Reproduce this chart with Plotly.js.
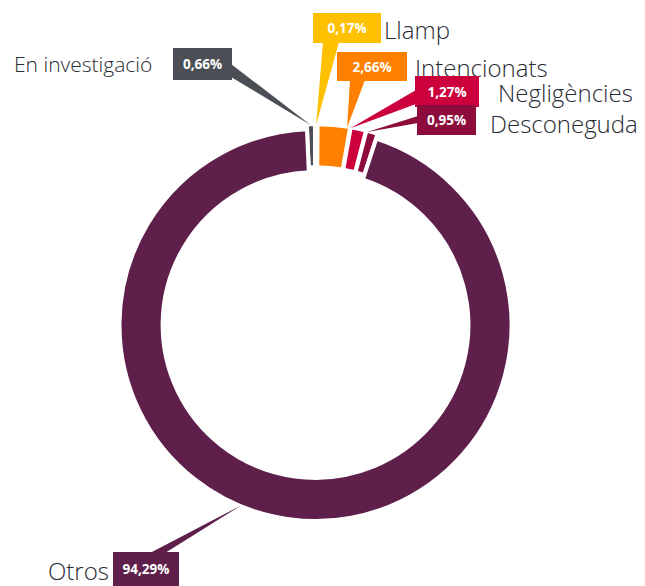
<!DOCTYPE html>
<html>
<head>
<meta charset="utf-8">
<script src="https://cdn.plot.ly/plotly-3.0.1.min.js"></script>
<style>
  html, body { margin: 0; padding: 0; background: #fff; }
  #chart { width: 645px; height: 586px; }
</style>
</head>
<body>
<div id="chart"></div>
<script>
// data
const labels = ['En investigació', 'Llamp', 'Intencionats', 'Negligències', 'Desconeguda', 'Otros'];
const values = [0.66, 0.17, 2.66, 1.27, 0.95, 94.29];
const pctText = ['0,66%', '0,17%', '2,66%', '1,27%', '0,95%', '94,29%'];
const colors = ['#4b4f55', '#ffc000', '#ff7f00', '#cc003d', '#8e0c3b', '#5e1f4b'];
const pulls = [0.025, 0.025, 0.025, 0.025, 0.025, 0];

// layout helpers (pixels in a 645x586 page, margin 0)
const W = 645, H = 586;
const cx = 315.5, cy = 325, R = 196;
const rot = -2.5;
const maxPull = Math.max(...pulls);
const half = R * (1 + maxPull);
function px(x) { return x / W; }
function py(y) { return 1 - y / H; }

// boxes: [left, top, width, height]
const boxes = [
    [173, 48, 59, 32],
    [313, 13, 68, 30],
    [337, 52, 70, 29],
    [415, 76, 64, 31],
    [417, 105, 59, 30],
    [113, 552, 66, 34]
];
// category text: [left, middle y, size]
const labelPos = [
    [12, 64, 21],
    [382, 30, 24],
    [413, 67, 24],
    [496, 92, 24],
    [488, 123, 24],
    [46, 570, 24]
];
// leader wedge base points and where on the slice it lands
const wedgeBase = [
    [[231, 64], [231, 77]],
    [[323, 42], [339, 42]],
    [[350, 80], [365, 80]],
    [[416, 90], [416, 104]],
    [[418, 116], [418, 123]],
    [[150, 553], [165, 553]]
];
const tipFrac = [0.5, 0.5, 0.9, 0.0, 0.1, 0.543];

const total = values.reduce((a, b) => a + b, 0);

function tipPoint(i) {
    let start = 0;
    for (let k = 0; k < i; k++) start += values[k];
    const ang = (rot + 360 * (start + tipFrac[i] * values[i]) / total) * Math.PI / 180;
    const r = R * (1 + pulls[i]) - 1;
    return [cx + r * Math.sin(ang), cy - r * Math.cos(ang)];
}

var shapes = [];
var annotations = [];
for (let i = 0; i < labels.length; i++) {
    const t = tipPoint(i);
    const b = wedgeBase[i];
    shapes.push({
        type: 'path',
        xref: 'paper', yref: 'paper',
        path: 'M' + px(b[0][0]) + ',' + py(b[0][1]) +
              ' L' + px(b[1][0]) + ',' + py(b[1][1]) +
              ' L' + px(t[0]) + ',' + py(t[1]) + ' Z',
        fillcolor: colors[i],
        line: {width: 0},
        layer: 'above'
    });
    const bx = boxes[i];
    annotations.push({
        xref: 'paper', yref: 'paper',
        x: px(bx[0]), y: py(bx[1]),
        xanchor: 'left', yanchor: 'top',
        width: bx[2], height: bx[3],
        borderpad: 0, borderwidth: 0,
        bgcolor: colors[i],
        showarrow: false,
        text: pctText[i],
        font: {family: '"Open Sans", sans-serif', size: 13.5, color: '#ffffff', weight: 700}
    });
    const lp = labelPos[i];
    annotations.push({
        xref: 'paper', yref: 'paper',
        x: px(lp[0]), y: py(lp[1]),
        xanchor: 'left', yanchor: 'middle',
        showarrow: false,
        text: labels[i],
        font: {family: '"Open Sans", sans-serif', size: lp[2], color: '#282b32', weight: 300}
    });
}

var trace = {
    type: 'pie',
    labels: labels,
    values: values,
    sort: false,
    direction: 'clockwise',
    rotation: rot,
    hole: 0.78,
    pull: pulls,
    marker: {
        colors: colors,
        line: {color: '#ffffff', width: 4}
    },
    textinfo: 'none',
    hoverinfo: 'label+percent',
    domain: {
        x: [px(cx - half), px(cx + half)],
        y: [py(cy + half), py(cy - half)]
    }
};

var layout = {
    width: W,
    height: H,
    margin: {l: 0, r: 0, t: 0, b: 0, pad: 0},
    showlegend: false,
    paper_bgcolor: '#ffffff',
    plot_bgcolor: '#ffffff',
    shapes: shapes,
    annotations: annotations
};

Plotly.newPlot('chart', [trace], layout, {displayModeBar: false, staticPlot: true});
</script>
</body>
</html>
